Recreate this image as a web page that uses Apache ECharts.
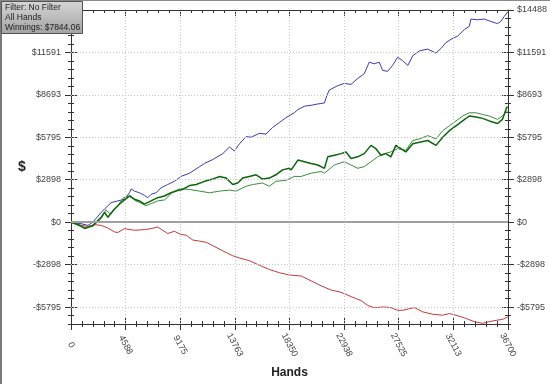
<!DOCTYPE html>
<html>
<head>
<meta charset="utf-8">
<script src="https://cdn.jsdelivr.net/npm/echarts@6/dist/echarts.min.js"></script>
<style>html,body{margin:0;padding:0;background:#fff;}#c{width:550px;height:384px;}</style>
</head>
<body>
<div id="c"></div>
<script>
// ---- tick labels ----
const xTickLabels = ['0','4588','9175','13763','18350','22938','27525','32113','36700'];
const xTickStep = 4587.5;
const xMaxHands = 36700;
const yTickValues = [-5795.32, -2897.66, 0, 2897.66, 5795.32, 8692.98, 11590.64, 14488.3];
const yTickLabels = ['-$5795','-$2898','$0','$2898','$5795','$8693','$11591','$14488'];
const yMinorStep = 579.532;
const yMinValue = -12 * yMinorStep;
const yMaxValue = 14488.3;

// ---- series data (hands, winnings $) ----
const blueHands = [0,862,1423,1841,2536,2820,3373,3934,4494,4913,5047,5331,5750,6168,6444,6721,7139,7558,8118,8679,9231,9960,10797,11215,11910,12747,13308,13726,14144,14705,15124,15818,16379,16931,17492,18053,18748,19057,19610,20170,20731,21284,21509,21702,22405,22957,23518,24079,24631,25050,25468,25887,26171,26590,27008,27427,27845,28289,28707,29268,29963,30657,31076,31494,31913,32474,33034,33453,33587,34148,34708,35260,35822,36098,36382,36700];
const blueWin = [0,-107,-221,0,669,896,1337,1451,1565,2006,2274,2120,2006,1832,1672,1899,2006,2340,2568,2788,3123,3344,3792,4012,4280,4681,5129,4861,5350,5844,5798,6065,6018,6466,6801,7135,7470,7690,7917,7984,8071,8138,8693,9027,9322,9475,9409,9810,10144,10927,10813,10927,10365,10298,10699,11261,11034,10699,11368,11702,11816,11548,11863,12264,12484,12705,13153,13374,13869,13822,13869,13708,13555,13708,14043,14377];

const redHands = [0,862,1423,1984,2536,3097,3657,3934,4494,5331,6168,6721,7281,7700,8118,8679,9231,9683,10236,10797,11357,11910,12747,13584,14144,14981,15818,16655,17492,18329,19334,20170,21007,21844,22681,23518,24355,24916,25468,26305,26866,27427,27870,28431,28849,29544,30381,31218,31779,32331,33168,33871,34566,35126,35822,36240,36700];
const redWin = [0,-221,-288,-174,-221,-401,-669,-709,-441,-555,-508,-441,-334,-555,-776,-622,-843,-889,-1224,-1291,-1378,-1605,-1959,-2294,-2447,-2628,-2942,-3230,-3450,-3611,-3678,-4012,-4347,-4634,-4788,-5082,-5350,-5684,-5838,-5791,-5838,-6018,-6018,-5905,-5838,-6125,-6286,-6353,-6239,-6353,-6573,-6794,-6908,-6794,-6687,-6640,-6460];

const darkHands = [0,586,1172,1841,2536,2820,3097,3657,4210,4913,5331,5750,6168,6721,7281,7842,8395,8955,9374,9960,10520,11215,11910,12471,13032,13584,14002,14420,14981,15542,16094,16655,17216,17769,18329,18497,19057,19610,20170,20731,21284,21568,22121,22681,23099,23518,24079,24631,25192,25610,26029,26447,26866,27285,27703,28122,28289,28707,29268,29963,30657,31218,31779,32331,32892,33453,34005,34566,35126,35822,36240,36600,36700];
const darkWin = [0,-154,-441,-221,334,669,334,896,1337,1785,1565,1451,1230,1451,1672,1785,2006,2167,2233,2501,2568,2788,2942,3123,3009,2568,2675,3009,3123,3236,2942,3009,3236,3571,3678,3571,4240,4126,4012,3905,3678,4460,4574,4681,4795,4347,4460,4681,5243,5016,4574,4681,4460,5243,5016,4795,4681,5350,5463,5577,5243,5798,6246,6580,6914,7249,7182,7088,6914,6734,7021,7851,7844];

const lightHands = [0,586,1172,1841,2536,2929,3264,3825,4377,4980,5356,5859,6277,6779,7281,7867,8453,9122,9960,10797,11634,12471,13308,13868,14705,15258,16094,16655,17216,18053,18748,19334,20170,21007,21284,22121,22957,23518,24079,24631,25192,25752,26305,26866,27427,28122,28707,29268,29963,30657,31218,31779,32331,32892,33453,34005,34566,35126,35822,36240,36700];
const lightWin = [0,-221,-374,-288,247,849,582,983,1652,1819,1485,1317,1117,1284,1451,1518,1985,2287,2233,2120,2006,2120,2187,2120,2454,2568,2675,2454,2788,2855,3123,3123,3344,3457,3344,3905,4126,3905,3678,3792,4126,4460,4681,4795,5016,4908,5577,5684,5911,5684,6246,6580,6914,7249,7470,7470,7356,7249,7021,7249,7623];

function pairs(xs, ys) { return xs.map((x, i) => [x, ys[i]]); }

const FONT = 'Liberation Sans, Arial, sans-serif';
const AXC = '#333';

function yLabelFmt(v) {
  for (let i = 0; i < yTickValues.length; i++) {
    if (Math.abs(v - yTickValues[i]) < 1) return yTickLabels[i];
  }
  return '';
}
function xLabelFmt(v) {
  const i = Math.round(v / xTickStep);
  return xTickLabels[i] !== undefined ? xTickLabels[i] : '';
}

function yAxisDef(pos, major, inside, withLine, withLabel, name) {
  const a = {
    type: 'value', position: pos, min: yMinValue, max: yMaxValue, offset: 0,
    axisLine: { show: withLine, lineStyle: { color: AXC, width: 1 } },
    axisTick: { show: true, inside: inside, length: major ? 6 : 3, lineStyle: { color: AXC, width: 1 } },
    axisLabel: { show: false },
    splitLine: { show: false },
    minorTick: { show: false }
  };
  if (major) {
    a.axisTick.customValues = yTickValues;
    if (withLabel) {
      // the left top label is hidden beneath the filter box in the original
      const vals = pos === 'left' ? yTickValues.slice(0, -1) : yTickValues;
      a.axisLabel = {
        show: true, customValues: vals, formatter: yLabelFmt,
        margin: pos === 'left' ? 10 : 9, fontSize: 9, color: '#444', fontFamily: FONT
      };
    }
  } else {
    a.interval = yMinorStep;
  }
  if (name) {
    a.name = name; a.nameLocation = 'middle'; a.nameGap = 36; a.nameRotate = 0;
    a.nameTextStyle = { fontSize: 14, fontWeight: 'bold', color: '#222', fontFamily: FONT };
  }
  return a;
}

function xAxisDef(pos, inside, withLine, withLabel, name) {
  const a = {
    type: 'value', position: pos, min: 0, max: xMaxHands, interval: xTickStep,
    axisLine: { show: withLine, onZero: false, lineStyle: { color: AXC, width: 1 } },
    axisTick: { show: true, inside: inside, length: 6, lineStyle: { color: AXC, width: 1 } },
    minorTick: { show: true, splitNumber: 5, length: 3, lineStyle: { color: AXC, width: 1 } },
    axisLabel: { show: false },
    splitLine: { show: false }
  };
  if (withLabel) {
    a.axisLabel = {
      show: true, formatter: xLabelFmt, rotate: -62, align: 'center', verticalAlign: 'middle',
      margin: 21, fontSize: 9, color: '#444', fontFamily: FONT, showMinLabel: true, showMaxLabel: true,
      hideOverlap: false
    };
  }
  if (name) {
    a.name = name; a.nameLocation = 'middle'; a.nameGap = 43;
    a.nameTextStyle = { fontSize: 12, fontWeight: 'bold', color: '#222', fontFamily: FONT };
  }
  return a;
}

const gridLineData = [];
yTickValues.forEach(v => { if (Math.abs(v) > 1 && v < yMaxValue - 1) gridLineData.push({ yAxis: v }); });
for (let i = 1; i < xTickLabels.length - 1; i++) gridLineData.push({ xAxis: i * xTickStep });

const chart = echarts.init(document.getElementById('c'), null, { renderer: 'canvas' });
chart.setOption({
  animation: false,
  backgroundColor: '#fff',
  grid: { left: 71, right: 40.5, top: 10, bottom: 53.3, containLabel: false },
  xAxis: [
    xAxisDef('bottom', false, true, true, 'Hands'),
    xAxisDef('bottom', true, false, false, null),
    xAxisDef('top', true, true, false, null)
  ],
  yAxis: [
    yAxisDef('left', true, false, true, true, '$'),
    yAxisDef('left', true, true, false, false, null),
    yAxisDef('left', false, false, false, false, null),
    yAxisDef('left', false, true, false, false, null),
    yAxisDef('right', true, false, true, true, null),
    yAxisDef('right', true, true, false, false, null),
    yAxisDef('right', false, false, false, false, null),
    yAxisDef('right', false, true, false, false, null)
  ],
  series: [
    {
      type: 'line', data: [[0, 0]], symbol: 'none', lineStyle: { opacity: 0 }, z: 1, silent: true,
      markLine: {
        silent: true, symbol: 'none', label: { show: false }, animation: false,
        lineStyle: { color: '#c8c8c8', type: [1, 2], width: 1 },
        data: gridLineData.concat([{ yAxis: 0, lineStyle: { color: '#a0a0a0', type: 'solid', width: 2 } }])
      }
    },
    { name: 'blue', type: 'line', data: pairs(blueHands, blueWin), symbol: 'none', z: 3,
      lineStyle: { color: '#3a3ab4', width: 1 } },
    { name: 'light', type: 'line', data: pairs(lightHands, lightWin), symbol: 'none', z: 3,
      lineStyle: { color: '#3c8c3c', width: 1 } },
    { name: 'dark', type: 'line', data: pairs(darkHands, darkWin), symbol: 'none', z: 4,
      lineStyle: { color: '#0b660b', width: 1.5 } },
    { name: 'red', type: 'line', data: pairs(redHands, redWin), symbol: 'none', z: 3,
      lineStyle: { color: '#c43a3a', width: 1 } }
  ],
  graphic: [
    { type: 'rect', left: 0, top: 0, zlevel: 2, z: 100, shape: { width: 2, height: 384 }, style: { fill: '#7a7a7a' } },
    { type: 'rect', left: 0, top: 0, zlevel: 2, z: 100, shape: { width: 550, height: 1 }, style: { fill: '#8a8a8a' } },
    { type: 'rect', left: 1, top: 1, zlevel: 2, z: 100, shape: { x: 0, y: 0, width: 81, height: 32 },
      style: { stroke: '#555', lineWidth: 1,
        fill: new echarts.graphic.LinearGradient(0, 0, 0, 1, [
          { offset: 0, color: '#d6d6d6' }, { offset: 1, color: '#a2a2a2' }]) } },
    { type: 'text', left: 5, top: 3, zlevel: 2, z: 101, style: { text: 'Filter: No Filter', fontSize: 8.5, fontFamily: FONT, fill: '#222' } },
    { type: 'text', left: 5, top: 13, zlevel: 2, z: 101, style: { text: 'All Hands', fontSize: 8.5, fontFamily: FONT, fill: '#222' } },
    { type: 'text', left: 5, top: 23, zlevel: 2, z: 101, style: { text: 'Winnings: $7844.06', fontSize: 8.5, fontFamily: FONT, fill: '#222' } }
  ]
});
</script>
</body>
</html>
